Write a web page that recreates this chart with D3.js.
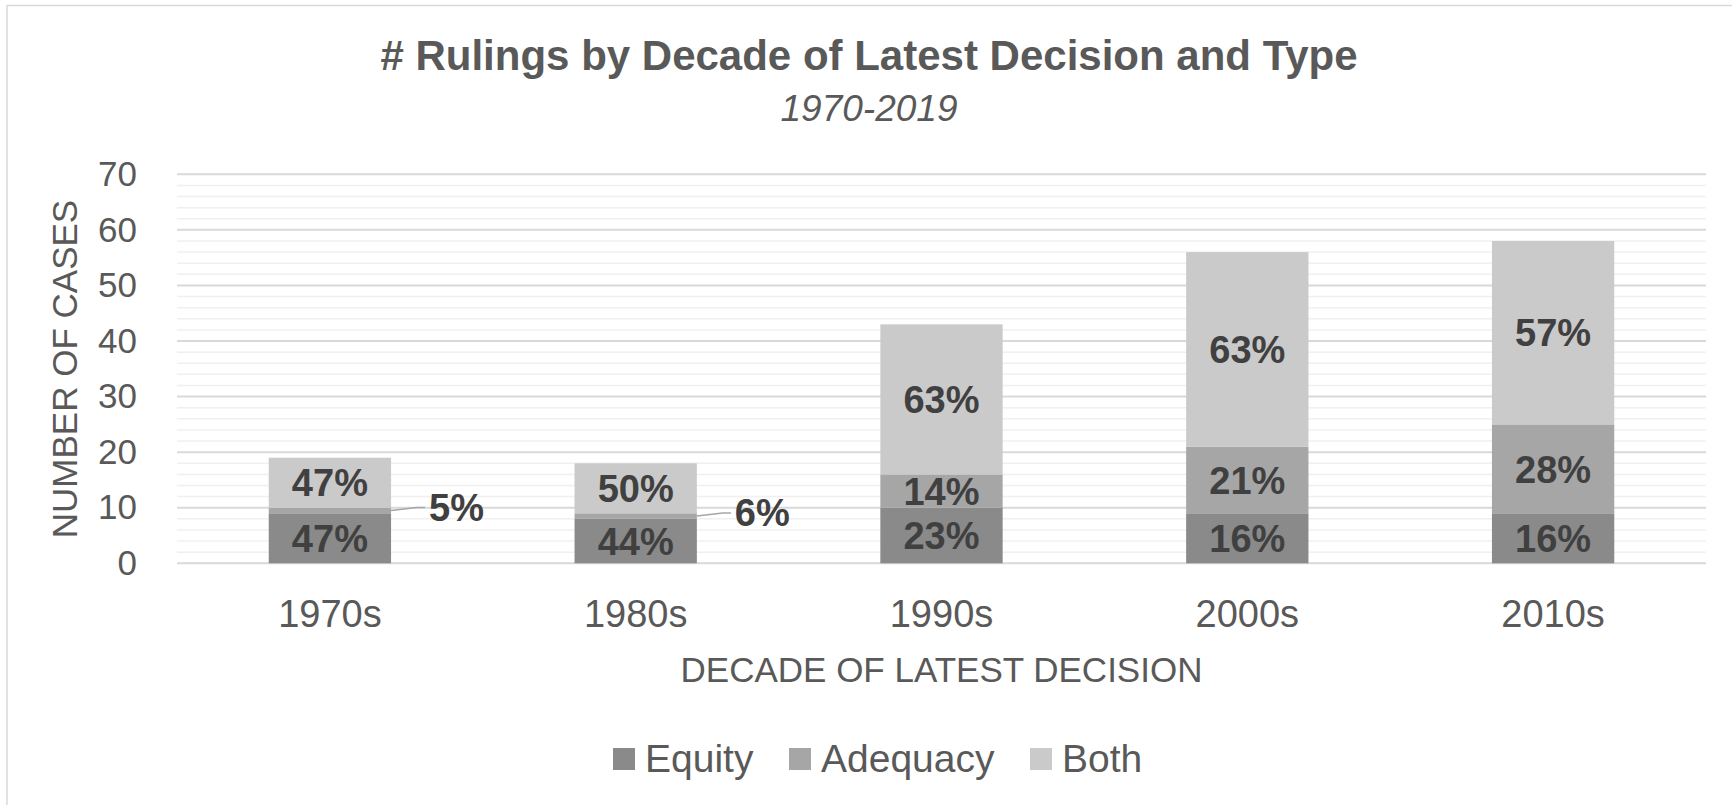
<!DOCTYPE html>
<html><head><meta charset="utf-8">
<script src="https://cdn.jsdelivr.net/npm/d3@7"></script>
<style>
html,body{margin:0;padding:0;background:#fff;overflow:hidden}
text{font-family:"Liberation Sans",Arial,sans-serif}
</style></head>
<body><svg id="chart" width="1732" height="805"></svg>
<script>
const categories = ["1970s","1980s","1990s","2000s","2010s"];
const seriesNames = ["Equity","Adequacy","Both"];
const equity   = [9, 8, 10, 9, 9];
const adequacy = [1, 1, 6, 12, 16];
const both     = [9, 9, 27, 35, 33];
const yTicks = [0,10,20,30,40,50,60,70];
const colors = ["#8a8a8a","#a6a6a6","#cacaca"];

const svg = d3.select("#chart");
const W = 1732, H = 805;
const m = {left:177, right:1706, top:174.3, bottom:563.3};

// chart border
svg.append("rect").attr("x",7).attr("y",5.5).attr("width",W).attr("height",H)
  .attr("fill","#fff").attr("stroke","#d9d9d9").attr("stroke-width",1.5);

const x = d3.scaleBand().domain(categories).range([m.left,m.right]).paddingInner(0.6).paddingOuter(0.3);
const y = d3.scaleLinear().domain([0,70]).range([m.bottom,m.top]);

// minor gridlines
const minor = d3.range(0,71,2).filter(v=>v%10!==0);
svg.append("g").selectAll("line").data(minor).join("line")
  .attr("x1",m.left).attr("x2",m.right).attr("y1",d=>y(d)).attr("y2",d=>y(d))
  .attr("stroke","#f0f0f0").attr("stroke-width",1.5);
// major gridlines
svg.append("g").selectAll("line").data(yTicks).join("line")
  .attr("x1",m.left).attr("x2",m.right).attr("y1",d=>y(d)).attr("y2",d=>y(d))
  .attr("stroke","#d9d9d9").attr("stroke-width",2);

// y axis labels
const yAxis = d3.axisLeft(y).tickValues(yTicks).tickSize(0).tickPadding(0);
const gy = svg.append("g").attr("transform",`translate(${m.left-40},0)`).call(yAxis);
gy.select(".domain").remove();
gy.selectAll("text").attr("font-size",35).attr("fill","#595959").attr("font-family","Liberation Sans, Arial, sans-serif");

// x axis labels
const xAxis = d3.axisBottom(x).tickSize(0).tickPadding(0);
const gx = svg.append("g").attr("transform",`translate(0,${m.bottom+37})`).call(xAxis);
gx.select(".domain").remove();
gx.selectAll("text").attr("font-size",38).attr("fill","#595959").attr("font-family","Liberation Sans, Arial, sans-serif");

// stacked data
const rows = categories.map((c,i)=>({cat:c, Equity:equity[i], Adequacy:adequacy[i], Both:both[i]}));
const stack = d3.stack().keys(seriesNames)(rows);

const bw = x.bandwidth();
stack.forEach((layer,li)=>{
  svg.append("g").selectAll("rect").data(layer).join("rect")
    .attr("x",d=>x(d.data.cat)).attr("width",bw)
    .attr("y",d=>y(d[1])).attr("height",d=>y(d[0])-y(d[1]))
    .attr("fill",colors[li]);
});

// data labels
const lab = svg.append("g");
stack.forEach((layer,li)=>{
  layer.forEach(d=>{
    const total = d.data.Equity + d.data.Adequacy + d.data.Both;
    const v = d[1]-d[0];
    const pct = Math.round(v/total*100) + "%";
    const cx = x(d.data.cat)+bw/2;
    const cy = (y(d[0])+y(d[1]))/2;
    if (v/total < 0.1) {
      const ex = x(d.data.cat)+bw;
      const lx = ex + 38;
      const ly = cy - 3;
      lab.append("path").attr("d",`M${ex},${cy}L${ex+26},${ly}L${lx-4},${ly}`)
        .attr("fill","none").attr("stroke","#a6a6a6").attr("stroke-width",1.5);
      lab.append("text").attr("x",lx).attr("y",ly).attr("dy","0.35em")
        .attr("font-size",38).attr("font-weight","bold").attr("fill","#404040").text(pct);
    } else {
      lab.append("text").attr("x",cx).attr("y",cy).attr("dy","0.36em").attr("text-anchor","middle")
        .attr("font-size",38).attr("font-weight","bold").attr("fill","#404040").text(pct);
    }
  });
});

// titles
svg.append("text").attr("x",869).attr("y",70).attr("text-anchor","middle")
  .attr("font-size",42).attr("font-weight","bold").attr("fill","#595959")
  .text("# Rulings by Decade of Latest Decision and Type");
svg.append("text").attr("x",869).attr("y",121).attr("text-anchor","middle")
  .attr("font-size",37).attr("font-style","italic").attr("fill","#595959")
  .text("1970-2019");

// axis titles
svg.append("text").attr("x",(m.left+m.right)/2).attr("y",682).attr("text-anchor","middle")
  .attr("font-size",35).attr("fill","#595959").text("DECADE OF LATEST DECISION");
svg.append("text").attr("transform",`translate(77,369) rotate(-90)`).attr("text-anchor","middle")
  .attr("font-size",35).attr("fill","#595959").text("NUMBER OF CASES");

// legend
const legX = [613, 789, 1030];
const lg = svg.append("g");
seriesNames.forEach((s,i)=>{
  lg.append("rect").attr("x",legX[i]).attr("y",748).attr("width",22).attr("height",22).attr("fill",colors[i]);
  lg.append("text").attr("x",legX[i]+32).attr("y",772).attr("font-size",39).attr("fill","#595959").text(s);
});
</script></body></html>
